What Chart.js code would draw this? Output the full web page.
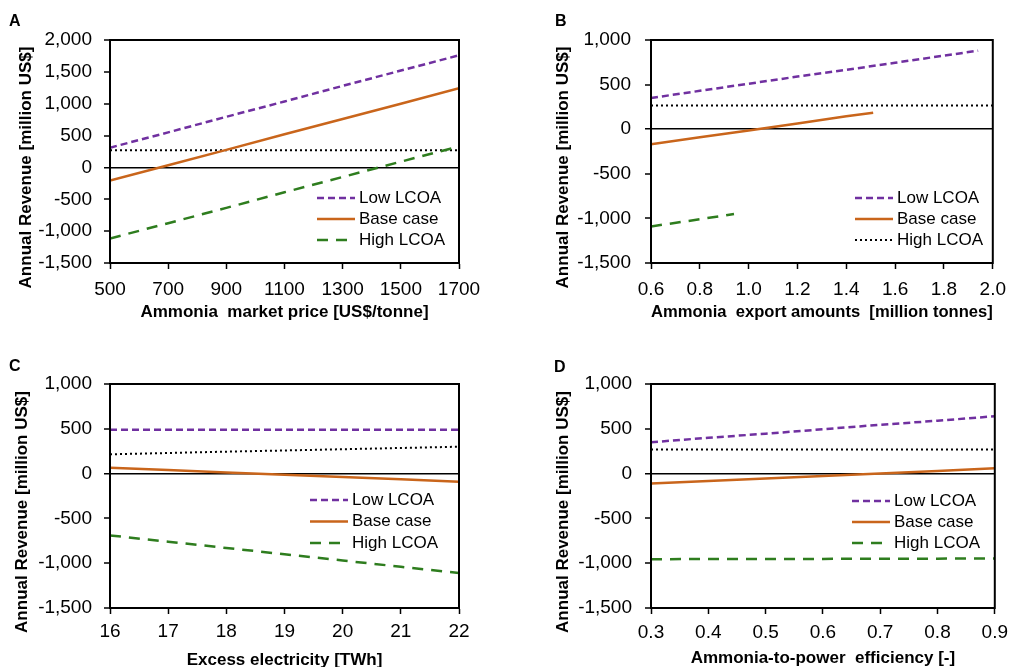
<!DOCTYPE html>
<html><head><meta charset="utf-8">
<script src="https://cdn.jsdelivr.net/npm/chart.js@4.4.1/dist/chart.umd.min.js"></script>
<style>
html,body{margin:0;padding:0;background:#fff;overflow:hidden;}
#wrap{position:relative;width:1015px;height:667px;overflow:hidden;background:#fff;}
canvas{position:absolute;}
.lbl{position:absolute;font:bold 16px "Liberation Sans",Arial,sans-serif;color:#000;line-height:16px;}
</style></head><body>
<div id="wrap">
<canvas id="cA" width="507" height="333" style="left:0px;top:0px"></canvas>
<canvas id="cB" width="508" height="333" style="left:507px;top:0px"></canvas>
<canvas id="cC" width="507" height="350" style="left:0px;top:333px"></canvas>
<canvas id="cD" width="508" height="350" style="left:507px;top:333px"></canvas>
<div class="lbl" style="left:9px;top:13px">A</div>
<div class="lbl" style="left:555px;top:13px">B</div>
<div class="lbl" style="left:9px;top:358px">C</div>
<div class="lbl" style="left:554px;top:359px">D</div>
</div>
<script>
// ---------- DATA ----------
const yTitle = 'Annual Revenue [million US$]';
const seriesNames = ['Low LCOA', 'Base case', 'High LCOA'];

// Panel A: Ammonia market price
const aTitle = 'Ammonia  market price [US$/tonne]';
const aPrice = [500, 700, 900, 1100, 1300, 1500, 1700];
const aLow   = [310, 550, 795, 1035, 1280, 1520, 1760];
const aBase  = [-205, 35, 275, 520, 760, 1000, 1245];
const aHigh  = [-1115, -875, -635, -390, -150, 90, 330];
const aRefX  = [500, 1700];
const aRef   = [270, 270];

// Panel B: Ammonia export amounts
const bTitle = 'Ammonia  export amounts  [million tonnes]';
const bLowX  = [0.6, 0.8, 1.0, 1.2, 1.4, 1.6, 1.8, 1.94];
const bLow   = [350, 430, 510, 590, 665, 745, 825, 880];
const bBaseX = [0.6, 0.8, 1.0, 1.2, 1.4, 1.51];
const bBase  = [-170, -90, -15, 65, 145, 185];
const bHighX = [0.6, 0.8, 0.94];
const bHigh  = [-1090, -1010, -950];
const bRefX  = [0.6, 2.0];
const bRef   = [265, 265];

// Panel C: Excess electricity
const cTitle = 'Excess electricity [TWh]';
const cTWh   = [16, 17, 18, 19, 20, 21, 22];
const cLow   = [490, 490, 490, 490, 490, 490, 490];
const cBase  = [65, 39, 13, -13, -39, -64, -90];
const cHigh  = [-690, -760, -830, -900, -970, -1040, -1110];
const cRef   = [215, 230, 245, 258, 272, 286, 300];

// Panel D: Ammonia-to-power efficiency
const dTitle = 'Ammonia-to-power  efficiency [-]';
const dEff   = [0.3, 0.4, 0.5, 0.6, 0.7, 0.8, 0.9];
const dLow   = [350, 400, 445, 495, 545, 590, 640];
const dBase  = [-110, -82, -55, -28, 2, 30, 60];
const dHigh  = [-955, -954, -953, -952, -950, -949, -948];
const dRef   = [270, 270, 270, 270, 270, 270, 270];

// ---------- STYLES ----------
const FF = '"Liberation Sans", Arial, sans-serif';
const ST = {
  low:  {borderColor:'#7030A0', borderDash:[7,4], borderWidth:2.5},
  base: {borderColor:'#C9651B', borderDash:[], borderWidth:2.5},
  high: {borderColor:'#2E7D1E', borderDash:[11,8], borderWidth:2.5},
  ref:  {borderColor:'#000000', borderDash:[2,3], borderWidth:2}
};
function ds(label, xs, ys, st){
  return Object.assign({label:label, data:xs.map((x,i)=>({x:x,y:ys[i]})), pointRadius:0, tension:0, fill:false}, st);
}

// shifts the y-axis title downward (as in the reference layout)
const titleShift = {
  id:'titleShift',
  beforeDraw(chart, args, opts){
    const s = chart.scales.y;
    if (!s || s._shiftPatched) return;
    const orig = s.drawTitle;
    s.drawTitle = function(){
      const t = this.top, b = this.bottom;
      this.top = t + opts.dy; this.bottom = b + opts.dy;
      orig.call(this);
      this.top = t; this.bottom = b;
    };
    s._shiftPatched = true;
  }
};

const frameAndLegend = {
  id:'frameAndLegend',
  afterDraw(chart, args, opts){
    const ctx = chart.ctx, a = chart.chartArea;
    ctx.save();
    ctx.strokeStyle = '#000'; ctx.lineWidth = 2; ctx.setLineDash([]);
    ctx.strokeRect(a.left, a.top, a.right - a.left, a.bottom - a.top);
    (opts.items || []).forEach((it, i) => {
      const d = chart.data.datasets[it.ds];
      const y = opts.y + i * opts.rowH;
      ctx.strokeStyle = d.borderColor; ctx.lineWidth = d.borderWidth; ctx.setLineDash(d.borderDash || []);
      ctx.beginPath(); ctx.moveTo(opts.x, y); ctx.lineTo(opts.x + opts.len, y); ctx.stroke();
      ctx.setLineDash([]);
      ctx.fillStyle = '#000'; ctx.font = '17px ' + FF; ctx.textBaseline = 'middle'; ctx.textAlign = 'left';
      ctx.fillText(it.text, opts.x + opts.len + 4, y);
    });
    ctx.restore();
  }
};

function make(id, p){
  return new Chart(document.getElementById(id), {
    type:'line',
    data:{datasets:p.datasets},
    options:{
      responsive:false, animation:false, devicePixelRatio:1,
      layout:{padding:{left:0, top:p.top, right:p.right, bottom:0}},
      plugins:{legend:{display:false}, tooltip:{enabled:false}, frameAndLegend:p.legend, titleShift:{dy:16}},
      scales:{
        x:{type:'linear', min:p.xMin, max:p.xMax,
          ticks:{stepSize:p.xStep, autoSkip:false, maxRotation:0, color:'#000', font:{family:FF, size:19}, padding:p.xPad, callback:p.xFmt},
          grid:{drawOnChartArea:false, color:'#000', tickColor:'#000', tickLength:6, tickWidth:1.5},
          border:{display:true, color:'#000', width:2},
          title:{display:true, text:p.xTitle, color:'#000', font:{family:FF, size:17, weight:'bold'}, padding:{top:0, bottom:p.xTitlePad}},
          afterFit:s=>{s.height = p.xH;}
        },
        y:{type:'linear', min:p.yMin, max:p.yMax,
          ticks:{stepSize:500, color:'#000', font:{family:FF, size:19}, padding:p.yPad, callback:v=>Number(v).toLocaleString('en-US')},
          grid:{color:c=>(c.tick && c.tick.value===0)?'#000':'rgba(0,0,0,0)', lineWidth:c=>(c.tick && c.tick.value===0)?1.5:0, tickColor:'#000', tickLength:6, tickWidth:1.5},
          border:{display:true, color:'#000', width:2},
          title:{display:true, text:yTitle, color:'#000', font:{family:FF, size:17, weight:'bold'}, padding:{top:p.yTitlePad, bottom:0}},
          afterFit:s=>{s.width = p.yW;}
        }
      }
    },
    plugins:[titleShift, frameAndLegend]
  });
}

make('cA', {
  datasets:[ds(seriesNames[0], aPrice, aLow, ST.low), ds(seriesNames[1], aPrice, aBase, ST.base), ds(seriesNames[2], aPrice, aHigh, ST.high), ds('Reference', aRefX, aRef, ST.ref)],
  top:40, right:48, xH:70, yW:110, xPad:9, yPad:12, xTitlePad:10, yTitlePad:16,
  xMin:500, xMax:1700, xStep:200, xFmt:v=>String(v), yMin:-1500, yMax:2000, xTitle:aTitle,
  legend:{x:317, y:198, rowH:21, len:38, items:[{ds:0,text:seriesNames[0]},{ds:1,text:seriesNames[1]},{ds:2,text:seriesNames[2]}]}
});
make('cB', {
  datasets:[ds(seriesNames[0], bLowX, bLow, ST.low), ds(seriesNames[1], bBaseX, bBase, ST.base), ds(seriesNames[2], bHighX, bHigh, ST.high), ds('Reference', bRefX, bRef, ST.ref)],
  top:40, right:16, xH:70, yW:144, xPad:9, yPad:14, xTitlePad:10, yTitlePad:46,
  xMin:0.6, xMax:2.0, xStep:0.2, xFmt:v=>Number(v).toFixed(1), yMin:-1500, yMax:1000, xTitle:bTitle,
  legend:{x:348, y:198, rowH:21, len:38, items:[{ds:0,text:seriesNames[0]},{ds:1,text:seriesNames[1]},{ds:3,text:seriesNames[2]}]}
});
make('cC', {
  datasets:[ds(seriesNames[0], cTWh, cLow, ST.low), ds(seriesNames[1], cTWh, cBase, ST.base), ds(seriesNames[2], cTWh, cHigh, ST.high), ds('Reference', cTWh, cRef, ST.ref)],
  top:51, right:48, xH:75, yW:110, xPad:6, yPad:12, xTitlePad:12, yTitlePad:12,
  xMin:16, xMax:22, xStep:1, xFmt:v=>String(v), yMin:-1500, yMax:1000, xTitle:cTitle,
  legend:{x:310, y:167, rowH:21.5, len:38, items:[{ds:0,text:seriesNames[0]},{ds:1,text:seriesNames[1]},{ds:2,text:seriesNames[2]}]}
});
make('cD', {
  datasets:[ds(seriesNames[0], dEff, dLow, ST.low), ds(seriesNames[1], dEff, dBase, ST.base), ds(seriesNames[2], dEff, dHigh, ST.high), ds('Reference', dEff, dRef, ST.ref)],
  top:51, right:16, xH:75, yW:144, xPad:7, yPad:13, xTitlePad:14, yTitlePad:46,
  xMin:0.3, xMax:0.9, xStep:0.1, xFmt:v=>Number(v).toFixed(1), yMin:-1500, yMax:1000, xTitle:dTitle,
  legend:{x:345, y:168, rowH:21, len:38, items:[{ds:0,text:seriesNames[0]},{ds:1,text:seriesNames[1]},{ds:2,text:seriesNames[2]}]}
});
</script>
</body></html>
